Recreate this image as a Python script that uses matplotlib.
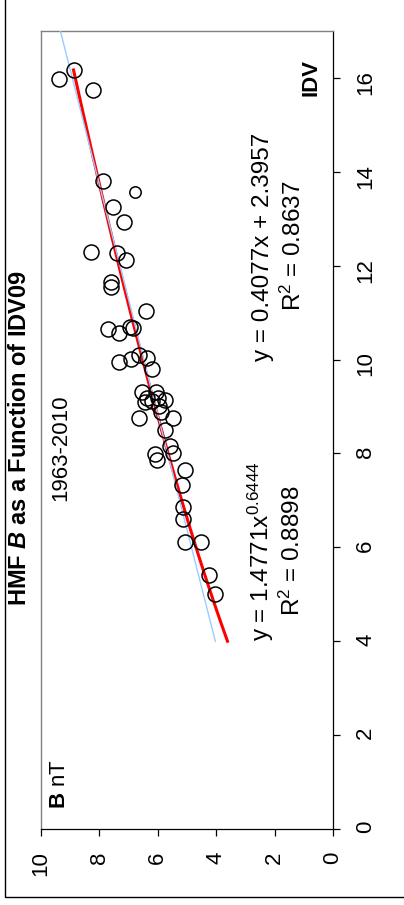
import numpy as np
import matplotlib
matplotlib.use("Agg")
import matplotlib.pyplot as plt
from matplotlib.patches import Rectangle

plt.rcParams['font.family'] = 'Liberation Sans'
plt.rcParams['mathtext.fontset'] = 'custom'
plt.rcParams['mathtext.rm'] = 'Liberation Sans'
plt.rcParams['mathtext.it'] = 'Liberation Sans:italic'
plt.rcParams['mathtext.bf'] = 'Liberation Sans:bold'
plt.rcParams['mathtext.bfit'] = 'Liberation Sans:italic:bold'

# IDV09 index and HMF B (nT), yearly values 1963-2010
idv = [16.17, 15.97, 15.74, 13.80, 13.26, 12.94, 12.30, 12.27, 12.12, 11.66,
       11.55, 11.04, 10.65, 10.57, 10.69, 10.68, 9.95, 10.02, 10.10, 10.03,
       9.79, 9.31, 9.18, 9.30, 9.12, 9.14, 9.01, 8.88, 8.75, 8.75,
       8.51, 8.16, 8.00, 7.99, 7.86, 7.65, 7.33, 6.86, 6.60, 6.12,
       6.12, 5.41, 5.01, 9.10, 9.18]
hmf_b = [8.86, 9.36, 8.20, 7.86, 7.54, 7.15, 8.27, 7.40, 7.07, 7.61,
         7.61, 6.40, 7.70, 7.32, 6.96, 6.83, 7.33, 6.92, 6.65, 6.36,
         6.20, 6.53, 6.36, 6.06, 6.19, 5.75, 5.95, 5.88, 6.63, 5.46,
         5.75, 5.58, 5.46, 6.09, 6.03, 5.06, 5.17, 5.12, 5.12, 5.05,
         4.52, 4.24, 4.05, 6.43, 5.99]

# odd year plotted with a smaller marker
idv_extra = [13.56]
hmf_b_extra = [6.78]

# trend lines
lin_slope, lin_icpt = 0.4077, 2.3957
pow_coef, pow_exp = 1.4771, 0.6444

fig = plt.figure(figsize=(4.04, 9.05), dpi=100)
ax = fig.add_axes([40.7 / 404, 76 / 905, 292.3 / 404, 798 / 905])

# power fit (red) and linear fit (light blue)
x_pow = np.linspace(4, max(idv), 200)
ax.plot(pow_coef * x_pow ** pow_exp, x_pow, color='red', lw=2.2, zorder=2)
x_lin = np.linspace(4, 17.2, 200)
ax.plot(lin_slope * x_lin + lin_icpt, x_lin, color='#99CCFF', lw=1.0, zorder=3)

ax.plot(hmf_b, idv, 'o', mfc='none', mec='black', ms=10.8, mew=1.1, zorder=4)
ax.plot(hmf_b_extra, idv_extra, 'o', mfc='none', mec='black', ms=8.2, mew=1.1, zorder=4)

ax.set_xlim(10, 0)
ax.set_ylim(0, 17)
ax.set_xticks(range(0, 11, 2))
ax.set_yticks(range(0, 17, 2))
ax.yaxis.tick_right()
ax.tick_params(axis='x', direction='out', length=5, width=0.9, pad=11,
               labelrotation=90, labelsize=16)
ax.tick_params(axis='y', direction='out', length=5, width=0.9, pad=11,
               labelrotation=90, labelsize=16)

for side in ['left', 'top']:
    ax.spines[side].set_color('#808080')
    ax.spines[side].set_linewidth(1.0)
for side in ['right', 'bottom']:
    ax.spines[side].set_color('black')
    ax.spines[side].set_linewidth(0.9)

ax.text(0.75, 16.0, 'IDV', rotation=90, ha='center', va='center',
        fontsize=16, fontweight='bold')
ax.text(9.37, 0.95, r'$\mathbf{B}$ nT', rotation=90, ha='center', va='center',
        fontsize=16)
ax.text(9.32, 8.12, '1963-2010', rotation=90, ha='center', va='center', fontsize=16)

ax.text(2.47, 5.93, r'y = 1.4771x$^{\mathregular{0.6444}}$', rotation=90,
        ha='center', va='center', fontsize=17.5)
ax.text(1.40, 5.93, r'R$^{\mathregular{2}}$ = 0.8898', rotation=90,
        ha='center', va='center', fontsize=17.5)
ax.text(2.40, 12.41, 'y = 0.4077x + 2.3957', rotation=90,
        ha='center', va='center', fontsize=17.5)
ax.text(1.37, 12.43, r'R$^{\mathregular{2}}$ = 0.8637', rotation=90,
        ha='center', va='center', fontsize=17.5)

fig.text(20.5 / 404, 1 - 438 / 905,
         r'$\mathbf{HMF}\ \mathbfit{B}\ \mathbf{as\ a\ Function\ of\ IDV09}$',
         rotation=90, ha='center', va='center', fontsize=17)

# outer chart border
fig.patches.append(Rectangle((4.5 / 404, 8 / 905), 2, 2, transform=fig.transFigure,
                             fill=False, ec='black', lw=1.0))

fig.savefig('out.png', dpi=100)
